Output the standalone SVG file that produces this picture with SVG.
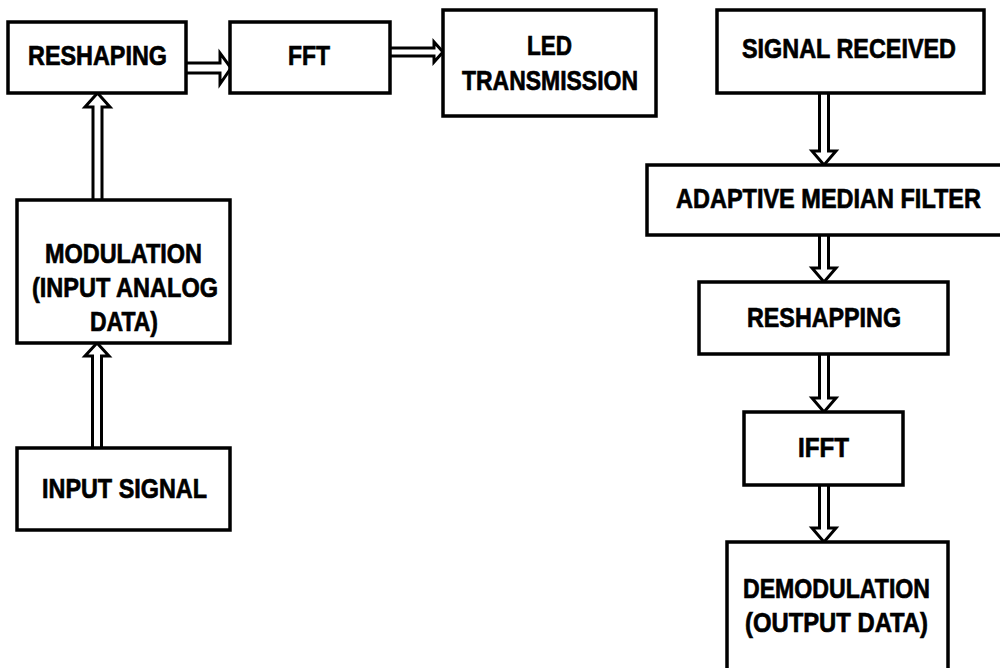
<svg xmlns="http://www.w3.org/2000/svg" width="1000" height="668" viewBox="0 0 1000 668">
<style>
.box{fill:#fff;stroke:#000;stroke-width:3.5}
.arr{fill:#fff;stroke:#000;stroke-width:3;stroke-linejoin:miter}
text{font-family:"Liberation Sans Narrow","Liberation Sans",Arial,sans-serif;font-weight:bold;font-size:28px;fill:#000;stroke:#000;stroke-width:0.7;text-anchor:middle}
</style>
<rect width="1000" height="668" fill="#fff"/>
<g id="connectors">
<path class="arr" d="M92.5,448 V356 H85 L97,343 L109,356 H101.5 V448"/>
<path class="arr" d="M93,200 V107 H85 L97.5,93 L110,107 H102 V200"/>
<path class="arr" d="M186,63 H220 V53 L231,68 L220,84 V73 H186"/>
<path class="arr" d="M390,48 H434 V42 L443,52 L434,62 V56 H390"/>
<path class="arr" d="M819.5,93 V151 H812 L824,165 L836,151 H828.5 V93"/>
<path class="arr" d="M819.5,235 V268 H812 L824,282 L836,268 H828.5 V235"/>
<path class="arr" d="M819.5,354 V398 H812 L824,412 L836,398 H828.5 V354"/>
<path class="arr" d="M819.5,485 V528 H812 L824,542 L836,528 H828.5 V485"/>
</g>
<g id="reshaping"><rect class="box" x="8" y="22" width="178" height="71"/><text x="97.5" y="65" textLength="139" lengthAdjust="spacingAndGlyphs">RESHAPING</text></g>
<g id="fft"><rect class="box" x="230" y="22" width="160" height="71"/><text x="309" y="65" textLength="42" lengthAdjust="spacingAndGlyphs">FFT</text></g>
<g id="led"><rect class="box" x="443" y="10" width="213" height="106"/><text x="549.5" y="55" textLength="45" lengthAdjust="spacingAndGlyphs">LED</text><text x="550" y="90" textLength="176" lengthAdjust="spacingAndGlyphs">TRANSMISSION</text></g>
<g id="modulation"><rect class="box" x="17" y="200" width="213" height="143"/><text x="123.5" y="263" textLength="157" lengthAdjust="spacingAndGlyphs">MODULATION</text><text x="125" y="297" textLength="186" lengthAdjust="spacingAndGlyphs">(INPUT ANALOG</text><text x="124" y="331" textLength="68" lengthAdjust="spacingAndGlyphs">DATA)</text></g>
<g id="input-signal"><rect class="box" x="17" y="448" width="213" height="82"/><text x="124.5" y="498" textLength="165" lengthAdjust="spacingAndGlyphs">INPUT SIGNAL</text></g>
<g id="signal-received"><rect class="box" x="717" y="10" width="267" height="83"/><text x="849" y="58" textLength="214" lengthAdjust="spacingAndGlyphs">SIGNAL RECEIVED</text></g>
<g id="adaptive-median-filter"><rect class="box" x="647" y="165" width="370" height="70"/><text x="828.5" y="208" textLength="305" lengthAdjust="spacingAndGlyphs">ADAPTIVE MEDIAN FILTER</text></g>
<g id="reshapping"><rect class="box" x="699" y="282" width="249" height="72"/><text x="824" y="327" textLength="154" lengthAdjust="spacingAndGlyphs">RESHAPPING</text></g>
<g id="ifft"><rect class="box" x="744" y="412" width="159" height="73"/><text x="823.5" y="457" textLength="51" lengthAdjust="spacingAndGlyphs">IFFT</text></g>
<g id="demodulation"><rect class="box" x="727" y="542" width="221" height="150"/><text x="836.5" y="598" textLength="187" lengthAdjust="spacingAndGlyphs">DEMODULATION</text><text x="836.5" y="632" textLength="183" lengthAdjust="spacingAndGlyphs">(OUTPUT DATA)</text></g>
</svg>
